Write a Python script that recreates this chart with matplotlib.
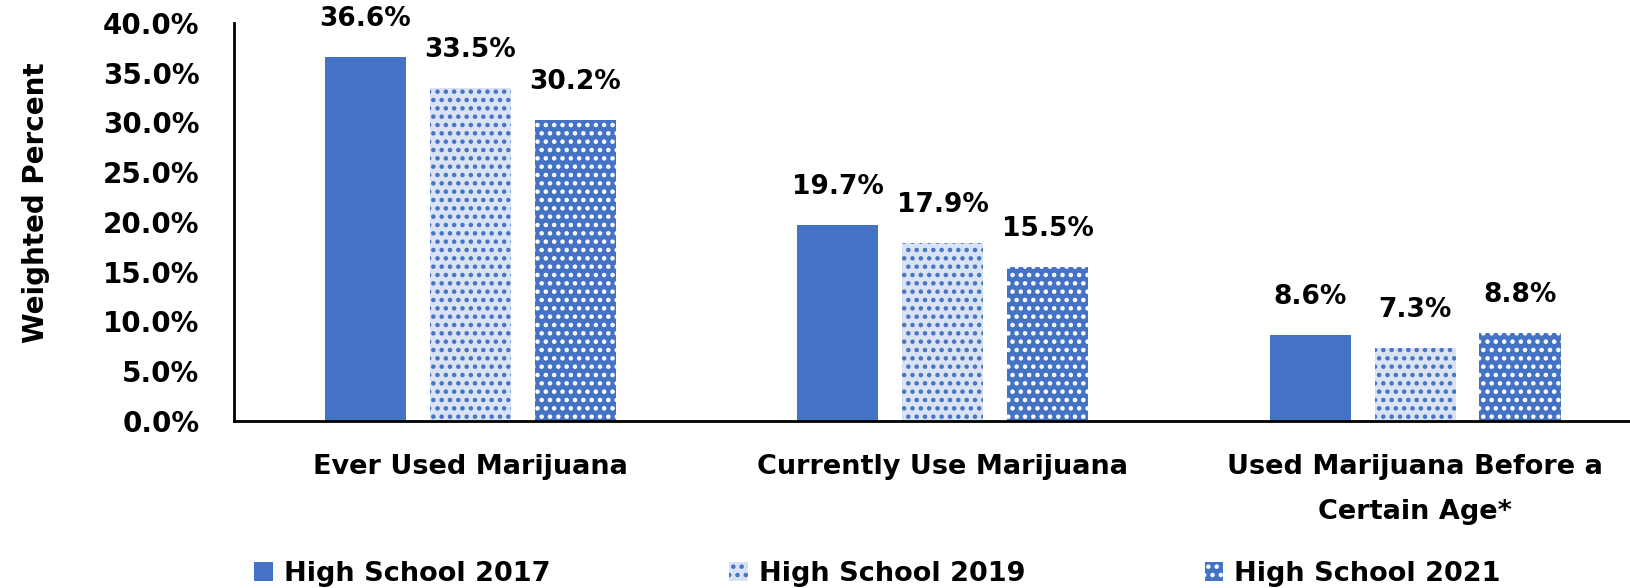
import numpy as np
import matplotlib
matplotlib.use("Agg")
import matplotlib.pyplot as plt

categories = ["Ever Used Marijuana", "Currently Use Marijuana",
              "Used Marijuana Before a\nCertain Age*"]
series_names = ["High School 2017", "High School 2019", "High School 2021"]
hs2017 = [36.6, 19.7, 8.6]
hs2019 = [33.5, 17.9, 7.3]
hs2021 = [30.2, 15.5, 8.8]
yticks = [0, 5, 10, 15, 20, 25, 30, 35, 40]

blue = "#4472C4"
light = "#DAE3F3"

plt.rcParams['font.family'] = ['DejaVu Sans']
plt.rcParams['font.weight'] = 'bold'
plt.rcParams['hatch.linewidth'] = 2.0

fig = plt.figure(figsize=(16.31, 5.88), dpi=100)
ax = fig.add_axes([0.1435, 0.284, 0.869, 0.677])

x = np.arange(len(categories))
w = 0.172
step = 0.222
styles = [
    dict(color=blue, edgecolor=blue, hatch=None),
    dict(color=light, edgecolor=blue, hatch=".."),
    dict(color=blue, edgecolor="white", hatch=".."),
]
for i, (vals, st) in enumerate(zip([hs2017, hs2019, hs2021], styles)):
    bars = ax.bar(x + (i - 1) * step, vals, w, facecolor=st["color"],
                  edgecolor=st["edgecolor"], hatch=st["hatch"], linewidth=0,
                  label=series_names[i])
    for b, v in zip(bars, vals):
        ax.annotate(f"{v:.1f}%", (b.get_x() + b.get_width() / 2, v),
                    xytext=(0, 18), textcoords="offset points",
                    ha="center", va="bottom", fontsize=19, fontweight="bold",
                    annotation_clip=False)

ax.set_xlim(-0.5, 2.5)
ax.set_ylim(0, 40)
ax.set_yticks(yticks)
ax.set_yticklabels([f"{t:.1f}%" for t in yticks], fontsize=20, fontweight="bold")
ax.set_xticks(x)
ax.set_xticklabels(categories, fontsize=19.5, fontweight="bold", linespacing=1.95)
ax.tick_params(axis="y", length=0, pad=25)
ax.tick_params(axis="x", length=0, pad=24)
ax.spines["top"].set_visible(False)
ax.spines["right"].set_visible(False)
ax.spines["left"].set_linewidth(2)
ax.spines["bottom"].set_linewidth(2)
fig.text(36 / 1631, 1 - 203 / 588, "Weighted Percent", rotation=90,
         ha="center", va="center", fontsize=20, fontweight="bold")

fig.legend(loc="center left", bbox_to_anchor=(0.156, 0.024), ncol=3, frameon=False,
           handlelength=0.7, handleheight=0.7, handletextpad=0.4,
           borderpad=0, borderaxespad=0,
           columnspacing=6.6, prop={"weight": "bold", "size": 19.5})

fig.savefig("out.png", dpi=100)
